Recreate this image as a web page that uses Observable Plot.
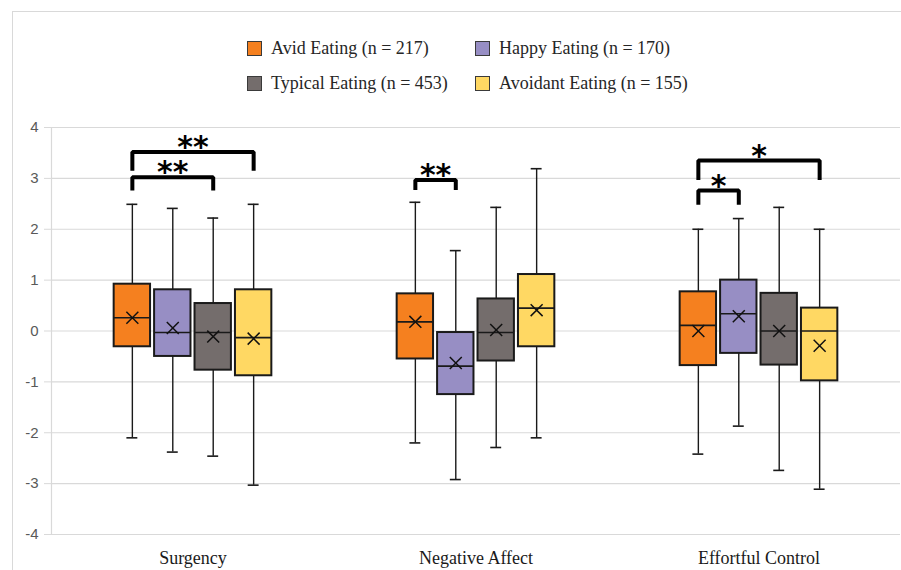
<!DOCTYPE html>
<html>
<head>
<meta charset="utf-8">
<script src="https://cdn.jsdelivr.net/npm/d3@7"></script>
<script src="https://cdn.jsdelivr.net/npm/@observablehq/plot@0.6"></script>
<style>
  body { margin: 0; background: #fff; }
  #wrap { position: relative; width: 901px; height: 570px; overflow: hidden; background: #fff; }
  #border { position: absolute; left: 12px; top: 11px; right: -5px; bottom: -5px;
            border-left: 1px solid #d9d9d9; border-top: 1px solid #d9d9d9; z-index: 5; pointer-events: none; }
  #legend { position: relative; height: 105px; }
  .item { position: absolute; display: flex; align-items: center; height: 20px;
          font-family: "Liberation Serif", "Times New Roman", serif; font-size: 18px; color: #262626; white-space: nowrap; }
  .sw { width: 15px; height: 15px; box-sizing: border-box; border: 1.5px solid #3a3a3a; margin-right: 9px; }
</style>
</head>
<body>
<div id="wrap">
  <div id="legend"></div>
  <div id="chart"></div>
  <div id="border"></div>
</div>
<script>
// ---- data ----
const traits = ["Surgency", "Negative Affect", "Effortful Control"];
const groups = ["Avid Eating", "Happy Eating", "Typical Eating", "Avoidant Eating"];
const groupN = [217, 170, 453, 155];
const groupColors = ["#F5801F", "#978EC4", "#746D6C", "#FFD863"];

// rows: traits, columns: groups
const whiskerLow  = [[-2.10, -2.38, -2.46, -3.03], [-2.20, -2.92, -2.29, -2.10], [-2.42, -1.87, -2.74, -3.11]];
const quartile1   = [[-0.31, -0.50, -0.77, -0.88], [-0.55, -1.25, -0.59, -0.31], [-0.68, -0.44, -0.67, -0.98]];
const medians     = [[ 0.26, -0.03, -0.03, -0.13], [ 0.18, -0.69, -0.03,  0.45], [ 0.11,  0.34,  0.00,  0.00]];
const quartile3   = [[ 0.92,  0.81,  0.54,  0.81], [ 0.73, -0.03,  0.63,  1.11], [ 0.77,  1.00,  0.74,  0.45]];
const whiskerHigh = [[ 2.49,  2.41,  2.22,  2.49], [ 2.53,  1.58,  2.43,  3.19], [ 2.00,  2.21,  2.43,  2.00]];
const means       = [[ 0.26,  0.06, -0.11, -0.15], [ 0.18, -0.63,  0.02,  0.41], [ 0.00,  0.29,  0.00, -0.29]];

// significance brackets
const bracketTrait = ["Surgency", "Surgency", "Negative Affect", "Effortful Control", "Effortful Control"];
const bracketFrom  = ["Avid Eating", "Avid Eating", "Avid Eating", "Avid Eating", "Avid Eating"];
const bracketTo    = ["Avoidant Eating", "Typical Eating", "Happy Eating", "Avoidant Eating", "Happy Eating"];
const bracketTop   = [3.52, 3.02, 2.97, 3.35, 2.76];
const bracketEnd   = [3.15, 2.76, 2.77, 2.97, 2.48];
const bracketLabel = ["**", "**", "**", "*", "*"];

const yTicks = [-4, -3, -2, -1, 0, 1, 2, 3, 4];

// ---- legend ----
const legend = document.getElementById("legend");
const colLeft = [247, 475], rowTop = [38, 73];
groups.forEach((g, i) => {
  const el = document.createElement("div");
  el.className = "item";
  el.style.left = colLeft[i % 2] + "px";
  el.style.top = rowTop[Math.floor(i / 2)] + "px";
  el.innerHTML = `<span class="sw" style="background:${groupColors[i]}"></span><span>${g} (n = ${groupN[i]})</span>`;
  legend.appendChild(el);
});

// ---- tables ----
const rows = [];
traits.forEach((t, ti) => groups.forEach((g, gi) => rows.push({
  trait: t, group: g, pos: gi,
  low: whiskerLow[ti][gi], q1: quartile1[ti][gi], median: medians[ti][gi],
  q3: quartile3[ti][gi], high: whiskerHigh[ti][gi], mean: means[ti][gi]
})));

const brackets = bracketTrait.map((t, i) => ({
  id: i, trait: t, from: groups.indexOf(bracketFrom[i]), to: groups.indexOf(bracketTo[i]),
  top: bracketTop[i], end: bracketEnd[i], label: bracketLabel[i]
}));
const bracketPts = brackets.flatMap(b => [
  {id: b.id, trait: b.trait, x: b.from, y: b.end},
  {id: b.id, trait: b.trait, x: b.from, y: b.top},
  {id: b.id, trait: b.trait, x: b.to, y: b.top},
  {id: b.id, trait: b.trait, x: b.to, y: b.end}
]);

const boxW = 0.9, capW = 0.27;
const xDomain = [-2, 5];
const yDomain = [-4, 4];
const ink = "#1a1a1a";

const chart = Plot.plot({
  width: 901, height: 465,
  marginLeft: 50, marginRight: 1, marginTop: 22, marginBottom: 36,
  style: {background: "transparent", overflow: "visible"},
  fx: {domain: traits, padding: 0, label: null},
  x: {domain: xDomain, axis: null},
  y: {domain: yDomain, label: null},
  color: {domain: groups, range: groupColors},
  marks: [
    Plot.ruleY(yTicks, {stroke: "#d9d9d9", strokeWidth: 1.2}),
    Plot.ruleX([{trait: traits[0], x: xDomain[0]}], {fx: "trait", x: "x", y1: () => yDomain[0], y2: () => yDomain[1], stroke: "#d9d9d9", strokeWidth: 1.2}),
    Plot.axisY({ticks: yTicks, tickSize: 7, tickPadding: 6, stroke: "#d9d9d9", fill: "#595959",
      fontSize: 15, fontFamily: "Liberation Sans, Arial, sans-serif", tickFormat: d => String(d), label: null}),
    Plot.axisFx({anchor: "bottom", tickSize: 0, tickPadding: 17, fontSize: 18,
      fontFamily: "Liberation Serif, Times New Roman, serif", fill: "#1a1a1a", label: null}),
    // whiskers
    Plot.ruleX(rows, {fx: "trait", x: "pos", y1: "low", y2: "high", stroke: ink, strokeWidth: 1.4}),
    Plot.ruleY(rows, {fx: "trait", x1: d => d.pos - capW / 2, x2: d => d.pos + capW / 2, y: "low", stroke: ink, strokeWidth: 1.6}),
    Plot.ruleY(rows, {fx: "trait", x1: d => d.pos - capW / 2, x2: d => d.pos + capW / 2, y: "high", stroke: ink, strokeWidth: 1.6}),
    // boxes
    Plot.rect(rows, {fx: "trait", x1: d => d.pos - boxW / 2, x2: d => d.pos + boxW / 2, y1: "q1", y2: "q3",
      fill: "group", stroke: ink, strokeWidth: 2}),
    Plot.ruleY(rows, {fx: "trait", x1: d => d.pos - boxW / 2, x2: d => d.pos + boxW / 2, y: "median", stroke: ink, strokeWidth: 1.6}),
    Plot.dot(rows, {fx: "trait", x: "pos", y: "mean", symbol: "times", r: 5.5, stroke: "#111", strokeWidth: 1.5}),
    // significance brackets
    Plot.line(bracketPts, {fx: "trait", x: "x", y: "y", z: "id", stroke: "#000", strokeWidth: 4,
      strokeLinejoin: "miter", strokeLinecap: "butt", curve: "linear"}),
    Plot.text(brackets, {fx: "trait", x: d => (d.from + d.to) / 2, y: "top", text: "label",
      fontSize: 30, fontWeight: "bold", fontFamily: "DejaVu Sans, sans-serif", lineAnchor: "bottom", dy: 5, fill: "#000"})
  ]
});
document.getElementById("chart").appendChild(chart);
</script>
</body>
</html>
